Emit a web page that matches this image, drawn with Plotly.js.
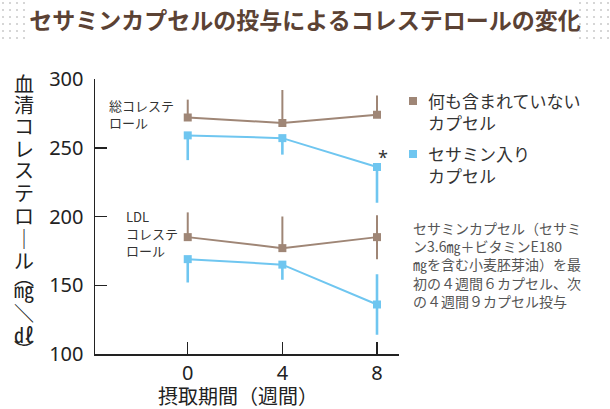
<!DOCTYPE html>
<html><head><meta charset="utf-8">
<script src="https://cdn.plot.ly/plotly-3.0.1.min.js"></script>
<style>html,body{margin:0;padding:0;background:#fff;}</style>
</head><body><div id="chart" style="width:610px;height:409px;"></div>
<script>
// ---- data ----
const weeks = [0, 4, 8];
const xTickVals = [0, 4, 8];
const yTickVals = [100, 150, 200, 250, 300];

const placeboTotal = [272, 268, 274];
const placeboTotalErrUp = [13, 24, 14];
const placeboTotalErrDown = [0, 0, 0];

const sesaminTotal = [259, 257, 236];
const sesaminTotalErrUp = [0, 0, 0];
const sesaminTotalErrDown = [18, 12, 26];

const placeboLDL = [185, 177, 185];
const placeboLDLErrUp = [18, 23, 16];
const placeboLDLErrDown = [0, 0, 16];

const sesaminLDL = [169, 165, 136];
const sesaminLDLErrUp = [0, 0, 22];
const sesaminLDLErrDown = [17, 11, 22];

const seriesNames = ['何も含まれていない<br>カプセル', 'セサミン入り<br>カプセル'];
const titleText = 'セサミンカプセルの投与によるコレステロールの変化';
const xTitle = '摂取期間（週間）';
const yTitleChars = ['血','清','コ','レ','ス','テ','ロ','｜','ル','︵','㎎','＼','㎗','︶'];
const groupTotal = '総コレステ<br>ロール';
const groupLDL = 'LDL<br>コレステ<br>ロール';
const noteText = 'セサミンカプセル（セサミ<br>ン3.6㎎＋ビタミンE180<br>㎎を含む小麦胚芽油）を最<br>初の４週間６カプセル、次<br>の４週間９カプセル投与';

// ---- style ----
const BROWN = '#9f8676';
const BLUE = '#6fc6f0';
const JP = '"Noto Sans CJK JP", "Noto Sans", sans-serif';
const L = 95, R = 399, T = 79, B = 354;
const px = x => (x - L) / (R - L);
const py = y => (B - y) / (B - T);

function trace(y, up, down, color, name, ew) {
  return {
    x: weeks, y: y, type: 'scatter', mode: 'lines+markers', name: name, showlegend: false,
    line: {color: color, width: 2},
    marker: {symbol: 'square', size: 8, color: color},
    error_y: {type: 'data', symmetric: false, array: up, arrayminus: down,
      color: color, thickness: ew, width: 0},
    cliponaxis: false
  };
}

const data = [
  trace(placeboTotal, placeboTotalErrUp, placeboTotalErrDown, BROWN, seriesNames[0], 2),
  trace(sesaminTotal, sesaminTotalErrUp, sesaminTotalErrDown, BLUE, seriesNames[1], 2.6),
  trace(placeboLDL, placeboLDLErrUp, placeboLDLErrDown, BROWN, seriesNames[0], 2),
  trace(sesaminLDL, sesaminLDLErrUp, sesaminLDLErrDown, BLUE, seriesNames[1], 2.6)
];

const annotations = [];
const yCenters = [83,104,125,148,169,192,215,238,260,276,289,312,334,349];
yTitleChars.forEach((c, i) => {
  annotations.push({xref:'paper', yref:'paper', x: px(24), y: py(yCenters[i]),
    text: c, showarrow:false, xanchor:'center', yanchor:'middle',
    font:{family: JP, size: 20, color:'#222'}});
});
annotations.push({xref:'paper', yref:'paper', x: px(238), y: py(395), text: xTitle,
  showarrow:false, xanchor:'center', yanchor:'middle', font:{family: JP, size: 20, color:'#222'}});
annotations.push({xref:'paper', yref:'paper', x: px(107), y: py(114), text: groupTotal,
  showarrow:false, xanchor:'left', yanchor:'middle', align:'left', font:{family: JP, size: 13, color:'#333'}});
annotations.push({xref:'paper', yref:'paper', x: px(124), y: py(233), text: groupLDL,
  showarrow:false, xanchor:'left', yanchor:'middle', align:'left', font:{family: JP, size: 13, color:'#333'}});
annotations.push({xref:'paper', yref:'paper', x: px(426), y: py(111), text: seriesNames[0],
  showarrow:false, xanchor:'left', yanchor:'middle', align:'left', font:{family: JP, size: 17, color:'#333'}});
annotations.push({xref:'paper', yref:'paper', x: px(426), y: py(164), text: seriesNames[1],
  showarrow:false, xanchor:'left', yanchor:'middle', align:'left', font:{family: JP, size: 17, color:'#333'}});
annotations.push({xref:'paper', yref:'paper', x: px(411), y: py(264), text: noteText,
  showarrow:false, xanchor:'left', yanchor:'middle', align:'left', font:{family: JP, size: 14, color:'#555'}});
annotations.push({xref:'x', yref:'y', x: 8.25, y: 243, text: '*',
  showarrow:false, xanchor:'center', yanchor:'middle', font:{family: '"Noto Sans", sans-serif', size: 18, color:'#333'}});

const shapes = [
  {type:'rect', xref:'paper', yref:'paper', x0: px(409), x1: px(417), y0: py(97), y1: py(105), fillcolor: BROWN, line:{width:0}},
  {type:'rect', xref:'paper', yref:'paper', x0: px(409), x1: px(417), y0: py(150), y1: py(158), fillcolor: BLUE, line:{width:0}}
];
// decorative dot grids beside the title
[[3,10,17,24],[580,587,594,601,608]].forEach(cols => {
  cols.forEach(cx => {
    [3,10,17,24,31,38].forEach(cy => {
      shapes.push({type:'circle', xref:'paper', yref:'paper', x0: px(cx-1), x1: px(cx+1), y0: py(cy+1), y1: py(cy-1),
        fillcolor:'#c9c9c9', line:{width:0}});
    });
  });
});

const layout = {
  width: 610, height: 409,
  margin: {l: L, r: 610 - R, t: T, b: 409 - B, pad: 0},
  paper_bgcolor: '#fff', plot_bgcolor: '#fff',
  title: {text: titleText, x: 0.5, xanchor: 'center', y: 1 - 21/409, yanchor: 'middle',
    font: {family: JP, size: 23, color: '#5b4234', weight: 'bold'}},
  xaxis: {range: [-3.92, 8.93], tickvals: xTickVals, ticktext: xTickVals.map(String),
    showgrid: false, zeroline: false, showline: true, linecolor: '#222', linewidth: 1.5,
    ticks: 'inside', ticklen: 12, tickwidth: 1.5, tickcolor: '#222',
    tickfont: {family: '"Noto Sans", sans-serif', size: 20, color: '#222'}, fixedrange: true},
  yaxis: {range: [100, 300], tickvals: yTickVals, ticktext: yTickVals.map(String),
    showgrid: false, zeroline: false, showline: true, linecolor: '#222', linewidth: 1.5,
    ticks: 'inside', ticklen: 12, tickwidth: 1.5, tickcolor: '#222', ticklabelstandoff: 6,
    tickfont: {family: '"Noto Sans", sans-serif', size: 20, color: '#222'}, fixedrange: true},
  showlegend: false,
  annotations: annotations,
  shapes: shapes
};

Plotly.newPlot('chart', data, layout, {displayModeBar: false, staticPlot: true});
</script></body></html>
